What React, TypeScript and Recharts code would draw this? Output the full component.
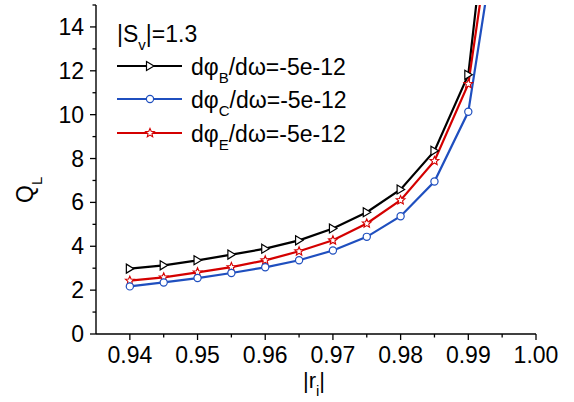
import { LineChart, Line, XAxis, YAxis } from 'recharts'

const rValues = [0.94, 0.945, 0.95, 0.955, 0.96, 0.965, 0.97, 0.975, 0.98, 0.985, 0.99, 0.995]
const qB = [2.98, 3.13, 3.36, 3.62, 3.89, 4.27, 4.81, 5.55, 6.59, 8.35, 11.82, 25.5]
const qC = [2.17, 2.35, 2.55, 2.78, 3.04, 3.36, 3.81, 4.43, 5.37, 6.95, 10.13, 20]
const qE = [2.43, 2.58, 2.81, 3.05, 3.36, 3.77, 4.27, 5.04, 6.1, 7.89, 11.4, 22]

const xTicks = [0.94, 0.945, 0.95, 0.955, 0.96, 0.965, 0.97, 0.975, 0.98, 0.985, 0.99, 0.995, 1.0]
const xLabels = ['0.94', '0.95', '0.96', '0.97', '0.98', '0.99', '1.00']
const yTicks = [0, 1, 2, 3, 4, 5, 6, 7, 8, 9, 10, 11, 12, 13, 14, 15]
const yLabels = ['0', '2', '4', '6', '8', '10', '12', '14']

const data = rValues.map((r, i) => ({ r, b: qB[i], c: qC[i], e: qE[i] }))

const FONT = '"Liberation Sans", Arial, sans-serif'
const BLACK = '#000000'
const BLUE = '#1f4fbf'
const RED = '#d40000'
const YMAX = 15
const FS = 23
const SUB = 15

const starPath = (cx: number, cy: number, r: number) => {
  const pts: string[] = []
  for (let k = 0; k < 10; k++) {
    const ang = -Math.PI / 2 + (k * Math.PI) / 5
    const rad = k % 2 === 0 ? r : r * 0.45
    pts.push(`${cx + rad * Math.cos(ang)},${cy + rad * Math.sin(ang)}`)
  }
  return `M${pts.join('L')}Z`
}

const TriDot = (props: any) => {
  const { cx, cy, value, index } = props
  if (value > YMAX || cx == null) return <g key={`t-${index}`} />
  return (
    <path
      key={`t-${index}`}
      d={`M${cx - 3.5},${cy - 4.5}L${cx + 4},${cy}L${cx - 3.5},${cy + 4.5}Z`}
      fill="#fff"
      stroke={BLACK}
      strokeWidth={1.2}
    />
  )
}

const CircleDot = (props: any) => {
  const { cx, cy, value, index } = props
  if (value > YMAX || cx == null) return <g key={`c-${index}`} />
  return <circle key={`c-${index}`} cx={cx} cy={cy} r={3.6} fill="#fff" stroke={BLUE} strokeWidth={1.2} />
}

const StarDot = (props: any) => {
  const { cx, cy, value, index } = props
  if (value > YMAX || cx == null) return <g key={`s-${index}`} />
  return <path key={`s-${index}`} d={starPath(cx, cy, 4.6)} fill="#fff" stroke={RED} strokeWidth={1.1} />
}

const XTick = (props: any) => {
  const { x, y, payload } = props
  const label = payload.value.toFixed(2)
  const major = xLabels.includes(label) && Math.abs(payload.value * 100 - Math.round(payload.value * 100)) < 1e-6
  return (
    <g>
      <line x1={x} y1={y} x2={x} y2={y + (major ? 6 : 3.5)} stroke={BLACK} strokeWidth={1.3} />
      {major && (
        <text x={x} y={y + 29} textAnchor="middle" fontFamily={FONT} fontSize={FS} fill={BLACK}>
          {label}
        </text>
      )}
    </g>
  )
}

const YTick = (props: any) => {
  const { x, y, payload } = props
  const label = String(payload.value)
  const major = yLabels.includes(label)
  return (
    <g>
      <line x1={x - (major ? 6 : 3.5)} y1={y} x2={x} y2={y} stroke={BLACK} strokeWidth={1.3} />
      {major && (
        <text x={x - 12} y={y + 8} textAnchor="end" fontFamily={FONT} fontSize={FS} fill={BLACK}>
          {label}
        </text>
      )}
    </g>
  )
}

const legendRows = [
  { sub: 'B', color: BLACK, y: 66, kind: 'tri' },
  { sub: 'C', color: BLUE, y: 99, kind: 'circle' },
  { sub: 'E', color: RED, y: 133, kind: 'star' },
]

export default function App() {
  return (
    <div style={{ position: 'absolute', left: 0, top: 0, width: 574, height: 402, background: '#fff' }}>
      <LineChart width={574} height={402} data={data} margin={{ top: 5, right: 38, bottom: 0, left: 0 }}>
        <XAxis
          dataKey="r"
          type="number"
          domain={[0.935, 1.0]}
          ticks={xTicks}
          interval={0}
          allowDataOverflow
          height={68}
          tickLine={false}
          tickSize={0}
          tickMargin={0}
          tick={<XTick />}
          axisLine={{ stroke: BLACK, strokeWidth: 1.4 }}
        />
        <YAxis
          type="number"
          domain={[0, YMAX]}
          ticks={yTicks}
          interval={0}
          allowDataOverflow
          width={96}
          tickLine={false}
          tickSize={0}
          tickMargin={0}
          tick={<YTick />}
          axisLine={{ stroke: BLACK, strokeWidth: 1.4 }}
        />
        <Line dataKey="b" stroke={BLACK} strokeWidth={2.2} dot={TriDot} isAnimationActive={false} />
        <Line dataKey="e" stroke={RED} strokeWidth={2.2} dot={StarDot} isAnimationActive={false} />
        <Line dataKey="c" stroke={BLUE} strokeWidth={2.2} dot={CircleDot} isAnimationActive={false} />
      </LineChart>
      <svg
        width={574}
        height={402}
        style={{ position: 'absolute', left: 0, top: 0, pointerEvents: 'none' }}
        fontFamily={FONT}
      >
        <text x={117} y={42} fontSize={FS} fill={BLACK}>
          |S<tspan fontSize={SUB} dy={8}>v</tspan>
          <tspan dy={-8}>|=1.3</tspan>
        </text>
        {legendRows.map((row) => (
          <g key={row.sub}>
            <line x1={117} y1={row.y} x2={182} y2={row.y} stroke={row.color} strokeWidth={2.2} />
            {row.kind === 'tri' && (
              <path
                d={`M${146.5},${row.y - 4.5}L${154},${row.y}L${146.5},${row.y + 4.5}Z`}
                fill="#fff"
                stroke={BLACK}
                strokeWidth={1.2}
              />
            )}
            {row.kind === 'circle' && (
              <circle cx={150} cy={row.y} r={3.6} fill="#fff" stroke={BLUE} strokeWidth={1.2} />
            )}
            {row.kind === 'star' && <path d={starPath(150, row.y, 4.6)} fill="#fff" stroke={RED} strokeWidth={1.1} />}
            <text x={191} y={row.y + 9} fontSize={FS} fill={BLACK}>
              dφ<tspan fontSize={SUB} dy={8}>{row.sub}</tspan>
              <tspan dy={-8}>/dω=-5e-12</tspan>
            </text>
          </g>
        ))}
        <text x={314} y={388} fontSize={22} fill={BLACK} textAnchor="middle">
          |r<tspan fontSize={SUB} dy={8}>i</tspan>
          <tspan dy={-8}>|</tspan>
        </text>
        <text x={33} y={203} fontSize={FS} fill={BLACK} transform="rotate(-90 33 203)">
          Q<tspan fontSize={SUB} dy={9}>L</tspan>
        </text>
      </svg>
    </div>
  )
}
